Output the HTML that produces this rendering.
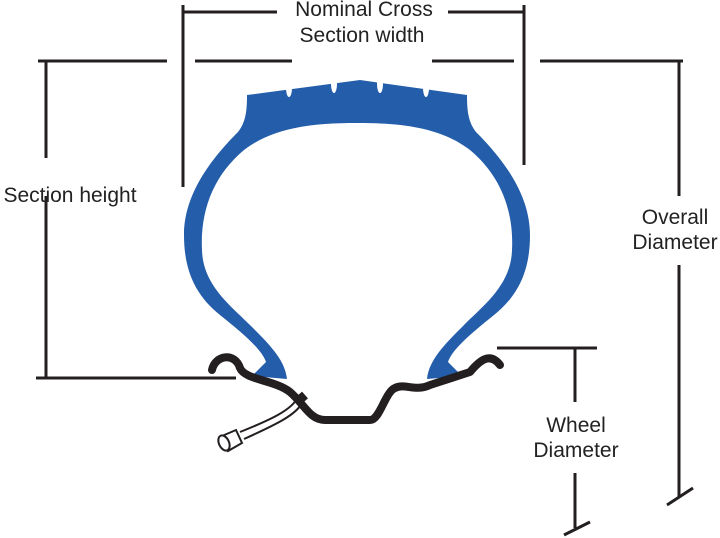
<!DOCTYPE html>
<html><head><style>
html,body{margin:0;padding:0;background:#fff;}
svg{display:block;}
text{font-family:"Liberation Sans",sans-serif;font-size:21px;fill:#222;}
</style></head><body>
<svg width="720" height="538" viewBox="0 0 720 538">
<g stroke="#231f20" stroke-width="3" fill="none">
<path d="M183 5 V187 M183 12 H277 M448 12 H524 M524 5 V165"/>
<path d="M38 61 H167 M195 61 H292 M432 61 H514 M540 61 H683"/>
<path d="M46 61 V158 M46 196 V378 M36 378 H236"/>
<path d="M679 61 V196 M679 265 V497 M667 505 L693 488"/>
<path d="M497 348 H597 M575 348 V402 M575 473 V528 M564 535 L590 522"/>
</g>
<path fill="#245eab" d="M287 379 L252 376 L266 362 C262 350 245 335 220 315 C195 295 184 270 184 235 C184 195 210 160 238 132 C246 122 247 110 247 95 L360 80 L467 95 C467 110 468 122 476 132 C504 160 530 195 530 235 C530 270 519 295 494 315 C469 335 452 350 448 362 L462 376 L427 379 C429 360 444 345 464 325 C484 305 511 285 512 250 C514 210 500 175 470 150 C440 127 400 123 357 123 C314 123 274 127 244 150 C214 175 200 210 202 250 C203 285 230 305 250 325 C270 345 285 360 287 379 Z"/>
<g fill="#fff">
<ellipse cx="289" cy="88" rx="3" ry="9"/>
<ellipse cx="334" cy="84" rx="3" ry="9"/>
<ellipse cx="380" cy="84" rx="3" ry="9"/>
<ellipse cx="426" cy="88" rx="3" ry="9"/>
</g>
<path d="M212 370 C215 355 235 352 240 368 C245 380 275 380 290 392 C305 405 310 420 325 420 L370 420 C380 420 385 392 395 388 C405 383 415 392 430 385 L470 372 C480 360 490 352 500 365" fill="none" stroke="#231f20" stroke-width="8" stroke-linecap="round" stroke-linejoin="round"/>
<path d="M297 402 L305 395" stroke="#231f20" stroke-width="9"/>
<path d="M298 397 C292 410 270 420 240 432 M302 403 C296 415 275 425 244 439" fill="none" stroke="#231f20" stroke-width="2"/>
<path d="M222 436 L236 430 L242 443 L228 451 Z" fill="#fff" stroke="#231f20" stroke-width="2"/>
<ellipse cx="224" cy="443" rx="5" ry="8" transform="rotate(-25 224 443)" fill="#fff" stroke="#231f20" stroke-width="2"/>
<text x="364" y="16" text-anchor="middle">Nominal Cross</text>
<text x="362" y="42" text-anchor="middle">Section width</text>
<text x="70" y="202" text-anchor="middle">Section height</text>
<text x="675" y="224" text-anchor="middle">Overall</text>
<text x="675" y="249" text-anchor="middle">Diameter</text>
<text x="576" y="432" text-anchor="middle">Wheel</text>
<text x="576" y="457" text-anchor="middle">Diameter</text>
</svg>
</body></html>
